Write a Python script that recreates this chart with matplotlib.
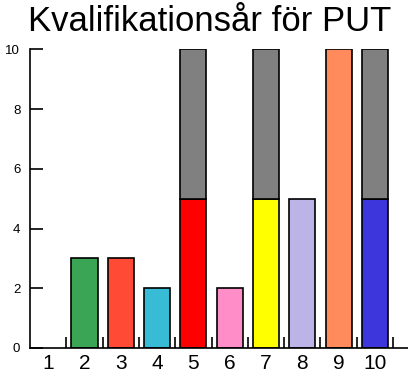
import matplotlib
matplotlib.use("Agg")
import matplotlib.pyplot as plt
import numpy as np

categories = [1, 2, 3, 4, 5, 6, 7, 8, 9, 10]
lower = [0, 3, 3, 2, 5, 2, 5, 5, 10, 5]
upper = [0, 0, 0, 0, 5, 0, 5, 0, 0, 5]
lower_colors = ["#ffffff", "#3aa655", "#ff4a35", "#38bcd6", "#ff0000",
                "#ff8ec8", "#ffff00", "#bcb4e6", "#ff8a5c", "#3c36dc"]
upper_color = "#808080"
tick_labels = ["1", "2", "3", "4", "5", "6", "7", "8", "9", "10"]
yticks = [0, 2, 4, 6, 8, 10]

plt.rcParams['font.family'] = ['Liberation Sans', 'DejaVu Sans']
fig = plt.figure(figsize=(4.08, 3.83), dpi=100)
ax = fig.add_axes([30/408, 1-348/383, 378/408, (348-49.3)/383])

x = np.array(categories)
w = 0.72
for xi, lo, up, c in zip(x, lower, upper, lower_colors):
    if lo > 0:
        ax.bar(xi, lo, width=w, color=c, edgecolor="black", linewidth=1.2)
    if up > 0:
        ax.bar(xi, up, bottom=lo, width=w, color=upper_color, edgecolor="black", linewidth=1.2)

ax.set_xlim(0.5, 10.91)
ax.set_ylim(0, 10)
ax.spines['top'].set_visible(False)
ax.spines['right'].set_visible(False)
ax.spines['left'].set_linewidth(1.2)
ax.spines['bottom'].set_linewidth(1.2)

ax.set_yticks(yticks)
ax.set_yticklabels([str(v) for v in yticks], fontsize=9.5)
ax.tick_params(axis='y', direction='in', length=9, width=1.2, pad=7)

ax.set_xticks(x)
ax.set_xticklabels(tick_labels, fontsize=15)
ax.tick_params(axis='x', which='major', length=0, pad=4)
ax.set_xticks(np.arange(1.5, 11, 1), minor=True)
ax.tick_params(axis='x', which='minor', direction='in', length=8, width=1.2)

fig.text(0.515, 0.945, "Kvalifikationsår för PUT", ha='center', va='center', fontsize=25)

fig.savefig("out.png", dpi=100)
